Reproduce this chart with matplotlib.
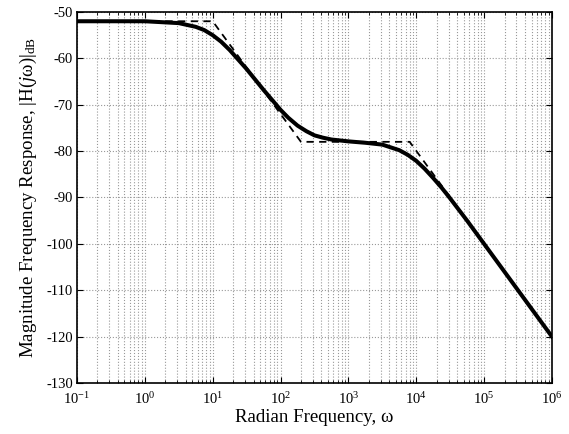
import numpy as np
import matplotlib
matplotlib.use('Agg')
import matplotlib.pyplot as plt
from matplotlib.ticker import LogLocator, NullFormatter, LogFormatterMathtext

# values
w_resp = [0.1, 1, 3.16, 5.62, 7.5, 10, 13.3, 17.8, 31.6, 56.2, 100, 130,
          178, 240, 316, 420, 562, 1000, 1778, 3162, 5623, 7500, 1e4,
          1.33e4, 1.778e4, 2.37e4, 3.162e4, 5.623e4, 1e5, 3.162e5, 1e6]
mag_resp = [-52.0, -52.0, -52.4, -53.2, -53.9, -55.0, -56.4, -58.2, -62.3,
            -66.8, -71.1, -72.8, -74.5, -75.7, -76.6, -77.1, -77.5, -77.9,
            -78.2, -78.6, -79.8, -80.8, -82.1, -83.8, -85.8, -87.9, -90.2,
            -95.0, -100.0, -110.0, -120.0]

w_asym = [0.1, 10, 200, 8000, 1e6]
mag_asym = [-52, -52, -78, -78, -120]

x_ticks = [1e-1, 1e0, 1e1, 1e2, 1e3, 1e4, 1e5, 1e6]

plt.rcParams['font.family'] = ['Liberation Serif', 'DejaVu Serif']
plt.rcParams['mathtext.fontset'] = 'custom'
plt.rcParams['mathtext.rm'] = 'Liberation Serif'
plt.rcParams['mathtext.it'] = 'Liberation Serif:italic'
plt.rcParams['axes.unicode_minus'] = False

fig = plt.figure(figsize=(5.69, 4.34), dpi=100)
ax = fig.add_axes([0.1353, 0.1175, 0.8347, 0.8549])

ax.semilogx(w_asym, mag_asym, 'k--', lw=1.3, dashes=(4, 3))
ax.semilogx(w_resp, mag_resp, 'k-', lw=2.9, solid_joinstyle='round')

ax.set_xlim(1e-1, 1e6)
ax.set_ylim(-130, -50)
ax.set_yticks(np.arange(-130, -49, 10))
ax.set_xticks(x_ticks)
ax.xaxis.set_minor_locator(LogLocator(base=10, subs=np.arange(2, 10), numticks=100))
ax.xaxis.set_minor_formatter(NullFormatter())
ax.xaxis.set_major_formatter(LogFormatterMathtext())

ax.grid(True, which='major', ls=':', color='#999999', lw=0.8)
ax.grid(True, which='minor', axis='x', ls=':', color='#999999', lw=0.8)
ax.tick_params(which='both', direction='in', top=True, right=True, labelsize=10.5)
ax.tick_params(which='major', length=4)
ax.tick_params(axis='y', pad=3)
ax.tick_params(axis='x', which='major', pad=6)
ax.tick_params(which='minor', length=2)
for s in ax.spines.values():
    s.set_linewidth(1.2)

ax.set_xlabel('Radian Frequency, ω', fontsize=13.6, labelpad=1)
ax.set_ylabel(r'Magnitude Frequency Response, $|\mathrm{H}(j\mathrm{ω})|_{\mathrm{dB}}$',
              fontsize=13.6, labelpad=5)

fig.savefig('out.png', dpi=100)
